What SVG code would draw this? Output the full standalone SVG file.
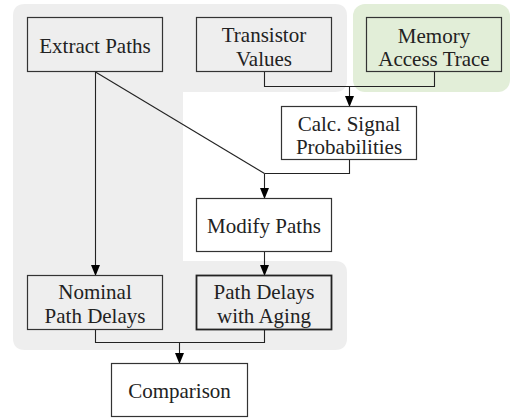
<svg xmlns="http://www.w3.org/2000/svg" width="511" height="418" viewBox="0 0 511 418">
<style>
.n rect{fill:none;stroke:#333;stroke-width:1.2}
.w rect{fill:#fff}
text{font-family:"Liberation Serif","Times New Roman",serif;font-size:21px;fill:#222;text-anchor:middle}
.c{fill:none;stroke:#222;stroke-width:1.1}
</style>
<defs>
<marker id="ah" markerUnits="userSpaceOnUse" markerWidth="11" markerHeight="9" refX="10" refY="4.5" orient="auto">
<path d="M0,0 L11,4.5 L0,9 Z" fill="#000"/>
</marker>
</defs>
<g id="groups">
<path d="M25,4 H335 Q347,4 347,16 V80 Q347,92 335,92 H183 V261 H335 Q347,261 347,273 V338 Q347,350 335,350 H25 Q13,350 13,338 V16 Q13,4 25,4 Z" fill="#eeeeee"/>
<rect x="353" y="4" width="157" height="88" rx="12" fill="#e2eed8"/>
</g>
<g id="connectors">
<path class="c" d="M264.5,72 V86.5 H434.5 V72"/>
<path class="c" d="M349.5,86.5 V106" marker-end="url(#ah)"/>
<path class="c" d="M349.5,160 V173.5 H264.5"/>
<path class="c" d="M264.5,173.5 V198" marker-end="url(#ah)"/>
<path class="c" d="M95.5,72 L264.5,173.5"/>
<path class="c" d="M95.5,72 V275" marker-end="url(#ah)"/>
<path class="c" d="M264.5,252 V275" marker-end="url(#ah)"/>
<path class="c" d="M95.5,330 V342.5 H264.5 V330"/>
<path class="c" d="M179.5,342.5 V363" marker-end="url(#ah)"/>
</g>
<g id="extract" class="n"><rect x="27.5" y="17.5" width="135" height="54"/><text x="95" y="52.5">Extract Paths</text></g>
<g id="transistor" class="n"><rect x="196.5" y="17.5" width="135" height="54"/><text x="264" y="42.3">Transistor</text><text x="264" y="66.3">Values</text></g>
<g id="memory" class="n"><rect x="366.5" y="17.5" width="135" height="54"/><text x="434" y="42.5">Memory</text><text x="434" y="65.5">Access Trace</text></g>
<g id="calc" class="n w"><rect x="281.5" y="106.5" width="135" height="53"/><text x="349" y="130.5">Calc. Signal</text><text x="349" y="153.5">Probabilities</text></g>
<g id="modify" class="n w"><rect x="196.5" y="198.5" width="135" height="53"/><text x="264" y="232.5">Modify Paths</text></g>
<g id="nominal" class="n"><rect x="27.5" y="275.5" width="135" height="54"/><text x="95" y="299.3">Nominal</text><text x="95" y="323.3">Path Delays</text></g>
<g id="aging" class="n"><rect x="196.5" y="275.5" width="135" height="54" style="stroke-width:1.8;stroke:#222"/><text x="264" y="299.3">Path Delays</text><text x="264" y="323.3">with Aging</text></g>
<g id="comparison" class="n w"><rect x="111.5" y="363.5" width="136" height="53"/><text x="179.5" y="398">Comparison</text></g>
</svg>
